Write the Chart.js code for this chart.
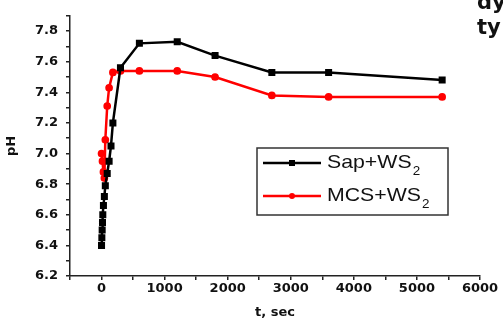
<!DOCTYPE html>
<html>
<head>
<meta charset="utf-8">
<script src="https://cdn.jsdelivr.net/npm/chart.js@4.4.1/dist/chart.umd.min.js"></script>
<style>
html,body{margin:0;padding:0;background:#fff;overflow:hidden;}
#wrap{position:relative;width:503px;height:325px;}
canvas{position:absolute;left:0;top:0;}
.frag{position:absolute;font-family:"DejaVu Sans";font-weight:bold;font-size:21px;color:#111;line-height:1;}
</style>
</head>
<body>
<div id="wrap">
<canvas id="c" width="503" height="325"></canvas>
<div class="frag" style="left:477px;top:-8px;">dy</div>
<div class="frag" style="left:477px;top:17px;">ty</div>
</div>
<script>
// Data
const sapTime = [0, 5, 10, 15, 20, 30, 45, 60, 90, 120, 150, 180, 300, 600, 1200, 1800, 2700, 3600, 5400];
const sapPH   = [6.40, 6.45, 6.50, 6.55, 6.60, 6.66, 6.72, 6.79, 6.87, 6.95, 7.05, 7.20, 7.56, 7.72, 7.73, 7.64, 7.53, 7.53, 7.48];
const mcsTime = [0, 15, 30, 45, 60, 90, 120, 180, 300, 600, 1200, 1800, 2700, 3600, 5400];
const mcsPH   = [7.00, 6.95, 6.88, 6.84, 7.09, 7.31, 7.43, 7.53, 7.54, 7.54, 7.54, 7.50, 7.38, 7.37, 7.37];
const seriesNames = ["Sap+WS", "MCS+WS"];
const xTickLabels = [0, 1000, 2000, 3000, 4000, 5000, 6000];
const yTickLabels = ["6.2", "6.4", "6.6", "6.8", "7.0", "7.2", "7.4", "7.6", "7.8"];
const xTitle = "t, sec";
const yTitle = "pH";

const toPts = (xs, ys) => xs.map((x, i) => ({x: x, y: ys[i]}));

const legendPlugin = {
  id: 'boxLegend',
  afterDraw(chart) {
    const ctx = chart.ctx;
    const bx = 257, by = 148, bw = 191, bh = 67;
    ctx.save();
    ctx.strokeStyle = '#333';
    ctx.lineWidth = 1.5;
    ctx.strokeRect(bx, by, bw, bh);
    const rows = [163, 196];
    chart.data.datasets.forEach((ds, i) => {
      const y = rows[i];
      ctx.strokeStyle = ds.borderColor;
      ctx.lineWidth = 2.5;
      ctx.beginPath();
      ctx.moveTo(263, y); ctx.lineTo(321, y); ctx.stroke();
      ctx.fillStyle = ds.pointBackgroundColor;
      if (ds.pointStyle === 'rect') {
        ctx.fillRect(292 - 3, y - 3, 6, 6);
      } else {
        ctx.beginPath(); ctx.arc(292, y, 3, 0, Math.PI * 2); ctx.fill();
      }
      ctx.fillStyle = '#111';
      ctx.save();
      ctx.translate(327, y);
      ctx.scale(1.12, 1);
      ctx.font = '19px "Liberation Sans"';
      ctx.textBaseline = 'middle';
      ctx.fillText(seriesNames[i], 0, 0);
      const w = ctx.measureText(seriesNames[i]).width;
      ctx.font = '12px "Liberation Sans"';
      ctx.fillText('2', w + 1, 9);
      ctx.restore();
    });
    ctx.restore();
  }
};

new Chart(document.getElementById('c'), {
  type: 'line',
  data: {
    datasets: [
      {
        label: seriesNames[0] + '2',
        data: toPts(sapTime, sapPH),
        borderColor: '#000',
        backgroundColor: '#000',
        pointBackgroundColor: '#000',
        pointBorderColor: '#000',
        pointStyle: 'rect',
        pointRadius: 3.2,
        borderWidth: 2.5,
        tension: 0
      },
      {
        label: seriesNames[1] + '2',
        data: toPts(mcsTime, mcsPH),
        borderColor: '#ff0000',
        backgroundColor: '#ff0000',
        pointBackgroundColor: '#ff0000',
        pointBorderColor: '#ff0000',
        pointStyle: 'circle',
        pointRadius: 2.6,
        borderWidth: 2.5,
        tension: 0
      }
    ]
  },
  options: {
    responsive: false,
    animation: false,
    devicePixelRatio: 1,
    layout: {padding: {top: 11, right: 23, left: 0, bottom: 0}},
    plugins: {legend: {display: false}, tooltip: {enabled: false}},
    scales: {
      x: {
        type: 'linear',
        min: -500, max: 6000,
        afterFit(s) { s.height = 49; },
        ticks: {
          stepSize: 500, autoSkip: false, maxRotation: 0,
          color: '#111', padding: 1,
          font: {family: 'DejaVu Sans', weight: 'bold', size: 13},
          callback: v => xTickLabels.includes(v) ? String(v) : ''
        },
        grid: {drawOnChartArea: false, drawTicks: true, tickLength: 4, color: '#222', lineWidth: 1.5},
        border: {color: '#222', width: 1.5},
        title: {display: true, text: xTitle, color: '#111', padding: {top: 0, bottom: 5},
                font: {family: 'DejaVu Sans', weight: 'bold', size: 13}}
      },
      y: {
        min: 6.2, max: 7.9,
        afterFit(s) { s.width = 70; },
        ticks: {
          stepSize: 0.1, autoSkip: false, color: '#111', padding: 8,
          font: {family: 'DejaVu Sans', weight: 'bold', size: 13},
          callback: v => { const t = (Math.round(v * 10) / 10).toFixed(1); return yTickLabels.includes(t) ? t : ''; }
        },
        grid: {drawOnChartArea: false, drawTicks: true, tickLength: 4, color: '#222', lineWidth: 1.5},
        border: {color: '#222', width: 1.5},
        title: {display: true, text: yTitle, color: '#111', padding: {top: 4, bottom: 0},
                font: {family: 'DejaVu Sans', weight: 'bold', size: 13}}
      }
    }
  },
  plugins: [legendPlugin]
});
</script>
</body>
</html>
